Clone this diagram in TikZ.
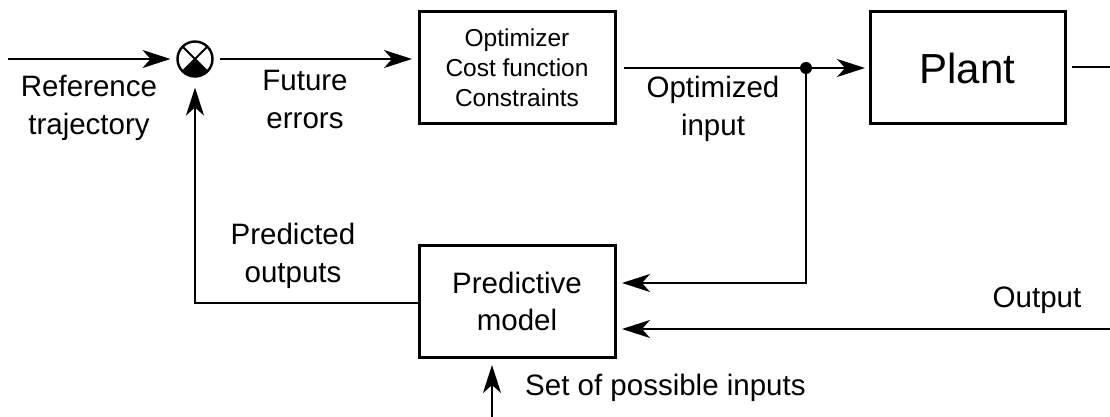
\documentclass[tikz,border=0pt]{standalone}
\usepackage{fontspec}
\setmainfont{Liberation Sans}
\usetikzlibrary{calc,arrows.meta}
\tikzstyle{blk}=[draw, line width=3pt, minimum width=196pt, minimum height=112pt, inner sep=0, outer sep=0, align=center]
\tikzstyle{sumj}=[draw, circle, line width=2.4pt, minimum size=35pt, inner sep=0, outer sep=0]
\tikzstyle{lbl}=[align=center, inner sep=0, font=\fontsize{29.5}{38}\selectfont]
\tikzstyle{ln}=[line width=2pt]
\tikzstyle{ar}=[ln, -{Stealth[length=28pt,width=18pt,inset=8pt]}]

\begin{document}
\begin{tikzpicture}[x=1pt,y=-1pt]
\useasboundingbox (0,0) rectangle (1110,417);
% blocks
\node[sumj] at (195,59) (sum) {};
\node[blk, font=\fontsize{24.5}{30}\selectfont] at (517,68) (opt) {Optimizer\\Cost function\\Constraints};
\node[blk, minimum width=195pt, font=\fontsize{42}{50}\selectfont] at (967.5,68) (plant) {Plant};
\node[blk, font=\fontsize{29.5}{37}\selectfont] at (517,301) (pred) {Predictive\\model};
% junction
\fill (sum.center)--(sum.-45) arc[start angle=-45, end angle=-135, radius=17.5pt]--cycle;
\foreach \a/\b in {45/-135,135/-45} {\draw[line width=2pt] (sum.\a)--(sum.\b);}
% free ends
\coordinate (refin) at (8,59);
\coordinate (plout) at (1110,67);
\coordinate (yin) at (1110,329);
\coordinate (uin) at (492,417);
\coordinate (fb) at (195,303);
\node[circle, fill, minimum size=12pt, inner sep=0] at (806,68) (br) {};
% connectors
\draw[ar, shorten >=7pt] (refin)--(sum.west);
\draw[ar, shorten <=7pt, shorten >=7pt] (sum.east)--(sum.east -| opt.west);
\draw[ln, shorten <=9pt] (opt.east)--(br);
\draw[ar, shorten >=5pt] (br)--(plant.west);
\draw[ln, shorten <=7pt] (plant.east |- plout)--(plout);
\draw[ar, shorten >=7pt] (br)--(br |- 0,283)--(pred.east |- 0,283);
\draw[ar, shorten >=7pt] (yin)--(pred.east |- yin);
\draw[ar, shorten >=11pt] (pred.west |- fb)--(fb)--(sum.south);
\draw[ar, shorten >=8pt] (uin)--(uin |- pred.south);
% labels
\node[lbl] at (89,108) (lref) {Reference\\trajectory};
\node[lbl] at (305,99) (lerr) {Future\\errors};
\node[lbl] at (713,109) (lopt) {Optimized\\input};
\node[lbl] at (293,256) (lpo) {Predicted\\outputs};
\node[lbl] at (1037,300) (lout) {Output};
\node[lbl, anchor=west] at (525,388) (lset) {Set of possible inputs};
\end{tikzpicture}
\end{document}
